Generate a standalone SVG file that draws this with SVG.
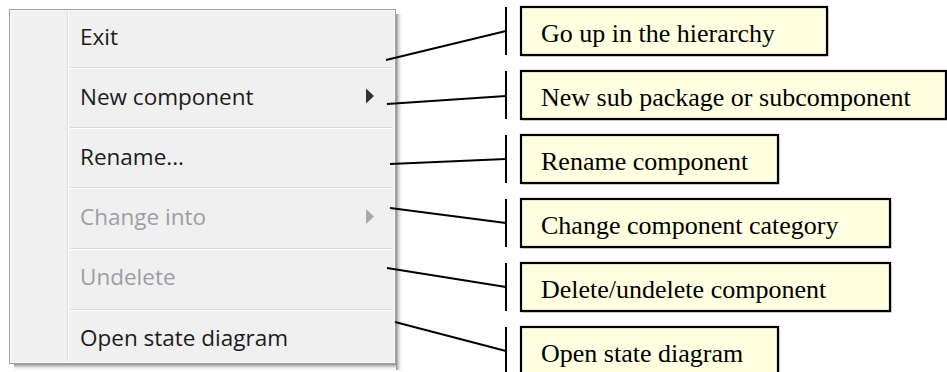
<svg xmlns="http://www.w3.org/2000/svg" width="947" height="372" viewBox="0 0 947 372">
  <defs>
    <style>
      .menu-text { font-family: "Open Sans", "Noto Sans", sans-serif; font-size: 22.5px; fill: #1b1b1b; }
      .menu-text.disabled { fill: #a09ca3; }
      .sep { stroke: #d9d9d9; stroke-width: 1; }
      .sep-hi { stroke: #ffffff; stroke-width: 1; }
      .note rect.box { fill: #ffffe1; stroke: #000; stroke-width: 2.2; }
      .note rect.shadow { fill: #b8b8b8; }
      .note text { font-family: "Liberation Serif", "Times New Roman", serif; font-size: 26px; fill: #000; }
      .bar { stroke: #000; stroke-width: 2; }
      .leader { stroke: #000; stroke-width: 2; fill: none; }
    </style>
    <linearGradient id="shadowR" x1="0" y1="0" x2="1" y2="0">
      <stop offset="0" stop-color="#8a8a8a"/>
      <stop offset="1" stop-color="#ffffff" stop-opacity="0"/>
    </linearGradient>
    <linearGradient id="shadowB" x1="0" y1="0" x2="0" y2="1">
      <stop offset="0" stop-color="#8a8a8a"/>
      <stop offset="1" stop-color="#ffffff" stop-opacity="0"/>
    </linearGradient>
  </defs>

  <rect width="947" height="372" fill="#ffffff"/>

  <!-- context menu -->
  <g id="menu">
    <rect x="396" y="14" width="7" height="356" fill="url(#shadowR)"/>
    <rect x="14" y="364" width="382" height="7" fill="url(#shadowB)"/>
    <rect x="9.5" y="9.5" width="386" height="354" fill="#f0f0f0" stroke="#a0a0a0" stroke-width="1"/>
    <rect x="10.5" y="10.5" width="384" height="352" fill="none" stroke="#f8f8f8" stroke-width="1"/>
    <line x1="67.5" y1="12" x2="67.5" y2="361" stroke="#dedede"/>
    <line x1="68.5" y1="12" x2="68.5" y2="361" stroke="#ffffff"/>

    <line class="sep" x1="70" y1="67.5" x2="392" y2="67.5"/>
    <line class="sep-hi" x1="70" y1="68.5" x2="392" y2="68.5"/>
    <line class="sep" x1="70" y1="127.5" x2="392" y2="127.5"/>
    <line class="sep-hi" x1="70" y1="128.5" x2="392" y2="128.5"/>
    <line class="sep" x1="70" y1="187.5" x2="392" y2="187.5"/>
    <line class="sep-hi" x1="70" y1="188.5" x2="392" y2="188.5"/>
    <line class="sep" x1="70" y1="248.5" x2="392" y2="248.5"/>
    <line class="sep-hi" x1="70" y1="249.5" x2="392" y2="249.5"/>
    <line class="sep" x1="70" y1="309.5" x2="392" y2="309.5"/>
    <line class="sep-hi" x1="70" y1="310.5" x2="392" y2="310.5"/>

    <g id="item-exit"><text class="menu-text" x="80" y="45">Exit</text></g>
    <g id="item-new">
      <text class="menu-text" x="80" y="105">New component</text>
      <polygon points="366,88.5 374,96 366,103.5" fill="#333333"/>
    </g>
    <g id="item-rename"><text class="menu-text" x="80" y="165">Rename...</text></g>
    <g id="item-change">
      <text class="menu-text disabled" x="80" y="225">Change into</text>
      <polygon points="366,209 374,216.5 366,224" fill="#a8a8a8"/>
    </g>
    <g id="item-undelete"><text class="menu-text disabled" x="80" y="285">Undelete</text></g>
    <g id="item-state"><text class="menu-text" x="80" y="346">Open state diagram</text></g>
  </g>

  <!-- leader lines -->
  <g id="connectors">
    <line class="bar" x1="506" y1="7" x2="506" y2="55"/>
    <line class="bar" x1="506" y1="71" x2="506" y2="119"/>
    <line class="bar" x1="506" y1="135" x2="506" y2="183"/>
    <line class="bar" x1="506" y1="199" x2="506" y2="247"/>
    <line class="bar" x1="506" y1="263" x2="506" y2="311"/>
    <line class="bar" x1="506" y1="327" x2="506" y2="372"/>
    <line class="leader" x1="386" y1="60" x2="506" y2="31"/>
    <line class="leader" x1="387" y1="104" x2="506" y2="96"/>
    <line class="leader" x1="390" y1="164" x2="506" y2="159"/>
    <line class="leader" x1="390" y1="208" x2="506" y2="223"/>
    <line class="leader" x1="387" y1="268" x2="506" y2="287"/>
    <line class="leader" x1="395" y1="322" x2="506" y2="351"/>
  </g>

  <!-- annotation boxes -->
  <g id="note-up" class="note">
    <rect class="shadow" x="522.5" y="8.5" width="306" height="48"/>
    <rect class="box" x="521" y="7" width="306" height="48"/>
    <text x="541" y="42">Go up in the hierarchy</text>
  </g>
  <g id="note-new" class="note">
    <rect class="shadow" x="522.5" y="72.5" width="426" height="48"/>
    <rect class="box" x="521" y="71" width="425" height="48"/>
    <text x="541" y="106">New sub package or subcomponent</text>
  </g>
  <g id="note-rename" class="note">
    <rect class="shadow" x="522.5" y="136.5" width="257" height="48"/>
    <rect class="box" x="521" y="135" width="257" height="48"/>
    <text x="541" y="170">Rename component</text>
  </g>
  <g id="note-change" class="note">
    <rect class="shadow" x="522.5" y="200.5" width="369" height="48"/>
    <rect class="box" x="521" y="199" width="369" height="48"/>
    <text x="541" y="234">Change component category</text>
  </g>
  <g id="note-delete" class="note">
    <rect class="shadow" x="522.5" y="264.5" width="369" height="48"/>
    <rect class="box" x="521" y="263" width="369" height="48"/>
    <text x="541" y="298">Delete/undelete component</text>
  </g>
  <g id="note-state" class="note">
    <rect class="shadow" x="522.5" y="328.5" width="257" height="48"/>
    <rect class="box" x="521" y="327" width="257" height="48"/>
    <text x="541" y="362">Open state diagram</text>
  </g>
</svg>
